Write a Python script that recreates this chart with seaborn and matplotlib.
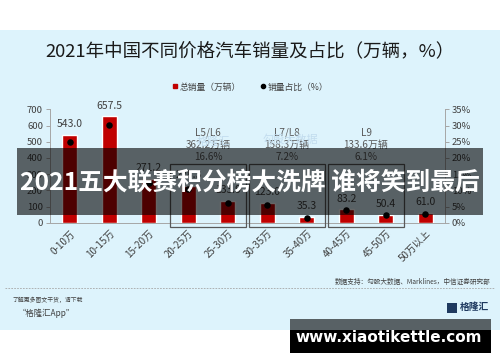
import matplotlib
matplotlib.use("Agg")
import matplotlib.pyplot as plt
from matplotlib.patches import Rectangle
from matplotlib.lines import Line2D
import seaborn as sns
import pandas as pd

# ---- data ----
categories = ["0-10万", "10-15万", "15-20万", "20-25万", "25-30万",
              "30-35万", "35-40万", "40-45万", "45-50万", "50万以上"]
sales = [543.0, 657.5, 271.2, 228.3, 133.9, 123.0, 35.3, 83.2, 50.4, 61.0]
share = [24.8, 30.1, 12.4, 10.4, 6.1, 5.6, 1.6, 3.8, 2.3, 2.8]
groups = ["L5/L6", "L7/L8", "L9"]
group_start = [3, 5, 7]
group_total = [362.2, 158.3, 133.6]
group_share = [16.6, 7.2, 6.1]
left_ticks = [0, 100, 200, 300, 400, 500, 600, 700]
right_ticks = [0, 5, 10, 15, 20, 25, 30, 35]

title = "2021年中国不同价格汽车销量及占比（万辆，%）"
overlay = "2021五大联赛积分榜大洗牌 谁将笑到最后"

sns.set_style("white")
plt.rcParams["font.family"] = ["Noto Sans CJK SC", "DejaVu Sans"]

W, H = 500, 362
fig = plt.figure(figsize=(W / 100, H / 100), dpi=100)
fig.patch.set_facecolor("white")

def fx(x):
    return x / W

def fy(y):
    return 1 - y / H

# light-blue panel
fig.add_artist(Rectangle((0, fy(330)), 1, (330 - 30) / H, transform=fig.transFigure,
                         facecolor="#DDF3FC", edgecolor="none", zorder=0))

ax = fig.add_axes([fx(50), fy(222.7), (445 - 50) / W, 113.4 / H])
ax.set_facecolor("none")
df = pd.DataFrame({"cat": categories, "sales": sales, "share": share})
sns.barplot(data=df, x="cat", y="sales", order=categories, color="#C00000",
            saturation=1, width=0.38, ax=ax, zorder=2)
ax.set_xlim(-0.5, 9.5)
ax.set_ylim(0, 700)
ax.set_yticks(left_ticks)
ax.set_yticklabels([str(t) for t in left_ticks], fontsize=6.8, color="#404040")
ax.set_xlabel("")
ax.set_ylabel("")
ax.set_xticks(range(len(categories)))
ax.set_xticklabels(categories, rotation=45, ha="right", va="top",
                   rotation_mode="anchor", fontsize=7, color="#404040")
ax.tick_params(axis="x", length=0, pad=4)
ax.set_xticks([i - 0.5 for i in range(len(categories) + 1)], minor=True)
ax.tick_params(axis="x", which="minor", length=3, color="#A6A6A6", width=0.7)
ax.tick_params(axis="y", length=3, color="#A6A6A6", width=0.7, pad=2)
for s in ["top", "right"]:
    ax.spines[s].set_visible(False)
for s in ["left", "bottom"]:
    ax.spines[s].set_color("#A6A6A6")
    ax.spines[s].set_linewidth(0.7)

for i, v in enumerate(sales):
    ax.annotate(f"{v:.1f}", (i, v), xytext=(0, 4), textcoords="offset points",
                ha="center", va="bottom", fontsize=7.5, color="#404040", zorder=3)

ax2 = ax.twinx()
sns.scatterplot(data=df, x="cat", y="share", ax=ax2, color="black", s=22,
                edgecolor="black", linewidth=0, zorder=4)
ax2.set_xlim(-0.5, 9.5)
ax2.set_ylim(0, 35)
ax2.set_yticks(right_ticks)
ax2.set_yticklabels([f"{t}%" for t in right_ticks], fontsize=6.8, color="#404040")
ax2.set_ylabel("")
ax2.set_xlabel("")
ax2.tick_params(axis="y", length=3, color="#A6A6A6", width=0.7, pad=2)
for s in ["top", "left", "bottom"]:
    ax2.spines[s].set_visible(False)
ax2.spines["right"].set_color("#A6A6A6")
ax2.spines["right"].set_linewidth(0.7)

# grouping boxes and labels
for g, st, tot, sh in zip(groups, group_start, group_total, group_share):
    ax.add_patch(Rectangle((st - 0.45, -26), 1.9, 388, facecolor="none",
                           edgecolor="#595959", linewidth=0.9, clip_on=False, zorder=5))
    cx = st + 0.5
    ax.text(cx, 554, g, ha="center", va="center", fontsize=7.2, color="#595959")
    ax.text(cx, 480, f"{tot:.1f}万辆", ha="center", va="center", fontsize=7.2, color="#595959")
    ax.text(cx, 406, f"{sh:.1f}%", ha="center", va="center", fontsize=7.2, color="#595959")

# faint watermarks
fig.text(fx(213), fy(142), "格隆汇", fontsize=8, color="#C2DCEE", ha="center", va="center", zorder=1)
fig.text(fx(290), fy(140), "勾股大数据", fontsize=8, color="#C2DCEE", ha="center", va="center", zorder=1)

# title & legend
fig.text(0.5, fy(52), title, ha="center", va="center", fontsize=13.3, color="#1A1A1A")
handles = [Line2D([], [], marker="s", color="#C00000", linestyle="none", markersize=3.5),
           Line2D([], [], marker="o", color="black", linestyle="none", markersize=3)]
fig.legend(handles, ["总销量（万辆）", "销量占比（%）"], loc="center",
           bbox_to_anchor=(0.5, fy(87)), ncol=2, frameon=False, fontsize=6.3,
           handletextpad=0.1, columnspacing=2.2, handlelength=0.8,
           labelcolor="#404040")

# source, separator, footer
fig.text(fx(491), fy(282), "数据支持：勾股大数据、Marklines，中信证券研究部", ha="right",
         va="center", fontsize=4.8, color="#404040")
fig.add_artist(Line2D([fx(5), fx(495)], [fy(288), fy(288)], transform=fig.transFigure,
                      color="#A6A6A6", linewidth=0.6, linestyle=(0, (2, 1.5))))
fig.text(fx(12), fy(300), "了解更多图文干货，请下载", ha="left", va="center",
         fontsize=4.2, color="#404040", style="italic")
fig.text(fx(18), fy(313), "“格隆汇App”", ha="left", va="center",
         fontsize=6, color="#404040", style="italic")
fig.add_artist(Rectangle((fx(447), fy(313)), 10 / W, 10 / H, transform=fig.transFigure,
                         facecolor="#1F3A60", edgecolor="none"))
fig.text(fx(460), fy(307), "格隆汇", ha="left", va="center", fontsize=7,
         color="#1F3A60", fontweight="bold")

# overlay band with headline
fig.add_artist(Rectangle((fx(17), fy(215)), (483 - 17) / W, (215 - 148) / H,
                         transform=fig.transFigure, facecolor="black", alpha=0.6,
                         edgecolor="none", zorder=10))
fig.text(0.5, fy(183), overlay, ha="center", va="center", fontsize=17.8,
         color="white", fontweight="bold", zorder=11)

# bottom url band
fig.add_artist(Rectangle((fx(290), fy(330)), (491 - 290) / W, (330 - 319) / H,
                         transform=fig.transFigure, facecolor="black", alpha=0.6,
                         edgecolor="none", zorder=10))
fig.add_artist(Rectangle((fx(290), fy(353)), (491 - 290) / W, (353 - 330) / H,
                         transform=fig.transFigure, facecolor="black",
                         edgecolor="none", zorder=10))
fig.text(fx(389), fy(338), "www.xiaotikettle.com", ha="center", va="center",
         fontsize=11, color="white", fontweight="bold", family="DejaVu Sans", zorder=11)

fig.savefig("out.png", dpi=100)
